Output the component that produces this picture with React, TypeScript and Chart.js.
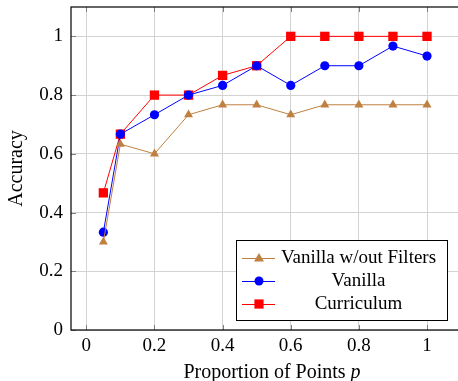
import React, { useEffect, useRef } from "react";
import { Chart, registerables } from "chart.js";

Chart.register(...registerables);

const proportions = [0.05, 0.1, 0.2, 0.3, 0.4, 0.5, 0.6, 0.7, 0.8, 0.9, 1.0];
const noFilterAcc = [0.3, 0.633, 0.6, 0.733, 0.767, 0.767, 0.733, 0.767, 0.767, 0.767, 0.767];
const vanillaAcc = [0.333, 0.667, 0.733, 0.8, 0.833, 0.9, 0.833, 0.9, 0.9, 0.967, 0.933];
const curriculumAcc = [0.467, 0.667, 0.8, 0.8, 0.867, 0.9, 1, 1, 1, 1, 1];
const xTicks = [0, 0.2, 0.4, 0.6, 0.8, 1];
const yTicks = [0, 0.2, 0.4, 0.6, 0.8, 1];
const seriesNames = ["Vanilla w/out Filters", "Vanilla", "Curriculum"];
const xTitle = "Proportion of Points ";
const xTitleVar = "p";
const yTitle = "Accuracy";

const BROWN = "#bf8040";
const BLUE = "#0000ff";
const RED = "#ff0000";
const FONT = "'Liberation Serif', 'DejaVu Serif', serif";

const toPts = (ys: number[]) => proportions.map((x, i) => ({ x, y: ys[i] }));

export default function App() {
  const ref = useRef<HTMLCanvasElement | null>(null);
  useEffect(() => {
    if (!ref.current) return;
    const framePlugin = {
      id: "frame",
      afterDatasetsDraw(chart: any) {
        const { ctx, chartArea: a, scales } = chart;
        ctx.save();
        ctx.strokeStyle = "#7f7f7f";
        ctx.lineWidth = 1;
        const tl = 5;
        ctx.beginPath();
        for (const t of xTicks) {
          const px = Math.round(scales.x.getPixelForValue(t)) + 0.5;
          ctx.moveTo(px, a.bottom);
          ctx.lineTo(px, a.bottom - tl);
          ctx.moveTo(px, a.top);
          ctx.lineTo(px, a.top + tl);
        }
        for (const t of yTicks) {
          const py = Math.round(scales.y.getPixelForValue(t)) + 0.5;
          ctx.moveTo(a.left, py);
          ctx.lineTo(a.left + tl, py);
          ctx.moveTo(a.right, py);
          ctx.lineTo(a.right - tl, py);
        }
        ctx.stroke();
        ctx.strokeStyle = "#000";
        ctx.lineWidth = 1.2;
        ctx.strokeRect(a.left, a.top, a.right - a.left, a.bottom - a.top);
        ctx.restore();
      },
      afterDraw(chart: any) {
        const { ctx, chartArea: a } = chart;
        ctx.save();
        ctx.fillStyle = "#000";
        ctx.textBaseline = "middle";
        ctx.font = `20px ${FONT}`;
        const w1 = ctx.measureText(xTitle).width;
        ctx.font = `italic 20px ${FONT}`;
        const w2 = ctx.measureText(xTitleVar).width;
        const startX = 272 - (w1 + w2) / 2;
        ctx.textAlign = "left";
        ctx.font = `20px ${FONT}`;
        ctx.fillText(xTitle, startX, 373);
        ctx.font = `italic 20px ${FONT}`;
        ctx.fillText(xTitleVar, startX + w1, 373);
        ctx.save();
        ctx.translate(17, (a.top + a.bottom) / 2);
        ctx.rotate(-Math.PI / 2);
        ctx.textAlign = "center";
        ctx.font = `20px ${FONT}`;
        ctx.fillText(yTitle, 0, 0);
        ctx.restore();

        const bx = 236.5, by = 240.5, bw = 211, bh = 80;
        ctx.fillStyle = "#fff";
        ctx.fillRect(bx, by, bw, bh);
        ctx.strokeStyle = "#000";
        ctx.lineWidth = 1;
        ctx.strokeRect(bx, by, bw, bh);
        const colors = [BROWN, BLUE, RED];
        const styles = ["triangle", "circle", "rect"];
        const rows = [258, 281, 304];
        ctx.font = `19px ${FONT}`;
        ctx.textAlign = "center";
        ctx.textBaseline = "middle";
        rows.forEach((ry, i) => {
          ctx.strokeStyle = colors[i];
          ctx.fillStyle = colors[i];
          ctx.lineWidth = 1;
          ctx.beginPath();
          ctx.moveTo(242, ry + 0.5);
          ctx.lineTo(275, ry + 0.5);
          ctx.stroke();
          const cx = 259;
          ctx.beginPath();
          if (styles[i] === "triangle") {
            ctx.moveTo(cx, ry - 5);
            ctx.lineTo(cx + 5, ry + 3.5);
            ctx.lineTo(cx - 5, ry + 3.5);
            ctx.closePath();
          } else if (styles[i] === "circle") {
            ctx.arc(cx, ry, 4.5, 0, Math.PI * 2);
          } else {
            ctx.rect(cx - 4.6, ry - 4.6, 9.2, 9.2);
          }
          ctx.fill();
          ctx.fillStyle = "#000";
          ctx.fillText(seriesNames[i], 358.5, ry);
        });
        ctx.restore();
      },
    };
    const mk = (label: string, data: number[], color: string, style: string, r: number) => ({
      label,
      data: toPts(data),
      borderColor: color,
      backgroundColor: color,
      pointBackgroundColor: color,
      pointBorderColor: color,
      pointBorderWidth: 0,
      pointStyle: style,
      pointRadius: r,
      borderWidth: 1,
      tension: 0,
    });
    const chart = new Chart(ref.current, {
      type: "line",
      data: {
        datasets: [
          mk(seriesNames[0], noFilterAcc, BROWN, "triangle", 5.2),
          mk(seriesNames[1], vanillaAcc, BLUE, "circle", 4.6),
          mk(seriesNames[2], curriculumAcc, RED, "rect", 6.6),
        ],
      },
      options: {
        animation: false,
        responsive: false,
        events: [],
        layout: { padding: { top: 7, right: 7, left: 0, bottom: 0 } },
        plugins: { legend: { display: false }, tooltip: { enabled: false } },
        scales: {
          x: {
            type: "linear",
            min: -0.045,
            max: 1.135,
            afterBuildTicks: (s: any) => {
              s.ticks = xTicks.map((v) => ({ value: v }));
            },
            afterFit: (s: any) => {
              s.height = 51;
              s.paddingLeft = 0;
              s.paddingRight = 0;
            },
            ticks: {
              color: "#000",
              font: { family: FONT, size: 19 },
              padding: 5,
              callback: (v: any) => String(v),
              maxRotation: 0,
            },
            grid: { color: "#d3d3d3", lineWidth: 1, tickLength: 0 },
            border: { display: false },
          },
          y: {
            type: "linear",
            min: 0,
            max: 1.1,
            afterBuildTicks: (s: any) => {
              s.ticks = yTicks.map((v) => ({ value: v }));
            },
            afterFit: (s: any) => {
              s.width = 71;
              s.paddingTop = 0;
              s.paddingBottom = 0;
            },
            ticks: {
              color: "#000",
              font: { family: FONT, size: 19 },
              padding: 8,
              callback: (v: any) => String(v),
            },
            grid: { color: "#d3d3d3", lineWidth: 1, tickLength: 0 },
            border: { display: false },
          },
        },
      },
      plugins: [framePlugin],
    });
    return () => chart.destroy();
  }, []);
  return (
    <div style={{ position: "absolute", left: 0, top: 0, width: 458, height: 381, overflow: "hidden", background: "#fff" }}>
      <canvas ref={ref} width={480} height={381} style={{ display: "block" }} />
    </div>
  );
}
